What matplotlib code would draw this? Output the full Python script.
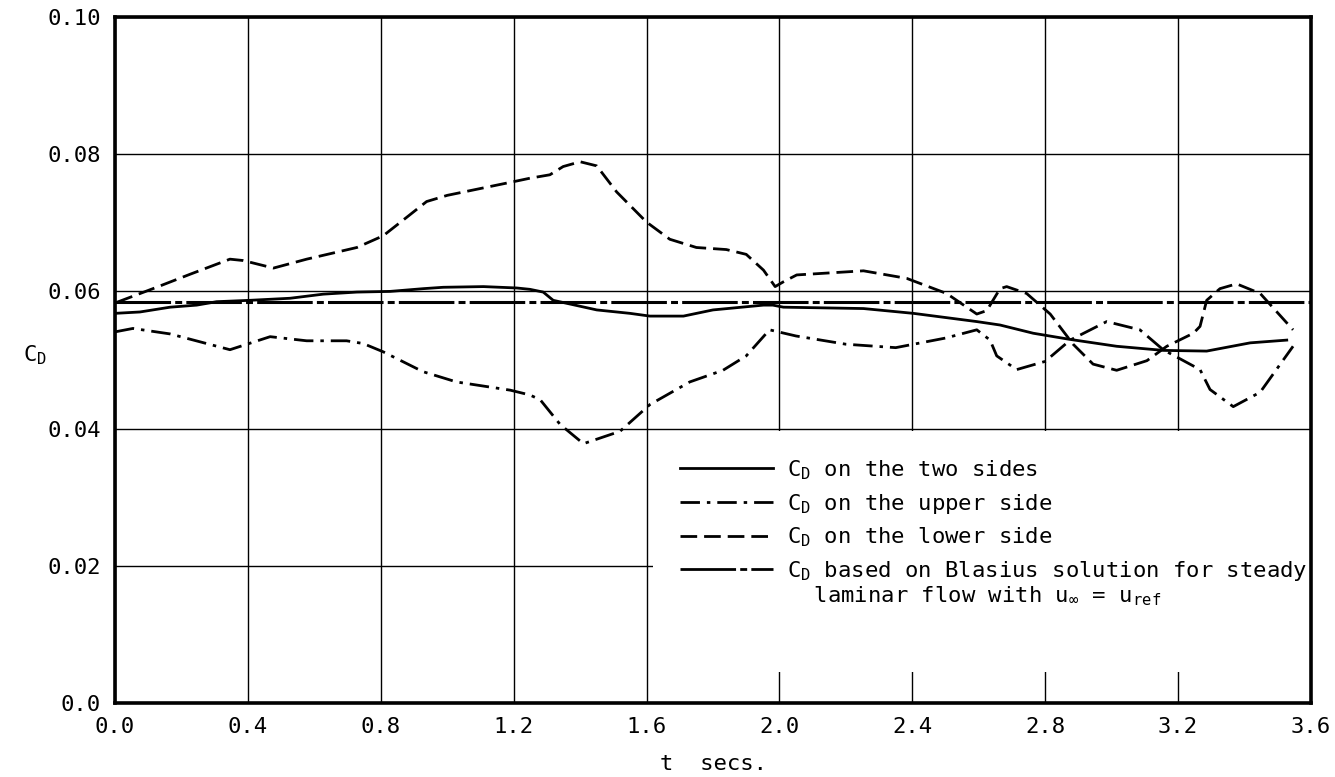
import matplotlib

matplotlib.use("Agg")
import matplotlib.pyplot as plt
from matplotlib.patches import Rectangle

# C_D on the two sides
t_two = [0.0, 0.075, 0.166, 0.246, 0.306, 0.406, 0.527, 0.627, 0.728, 0.828, 0.928, 0.988,
         1.109, 1.209, 1.249, 1.289, 1.319, 1.45, 1.55, 1.61, 1.711, 1.80, 1.952, 1.98, 2.012,
         2.253, 2.403, 2.594, 2.664, 2.764, 2.875, 3.015, 3.156, 3.286, 3.417, 3.527]
cd_two = [0.0568, 0.0570, 0.0577, 0.0580, 0.0585, 0.0587, 0.0590, 0.0596, 0.0599, 0.0600,
          0.0604, 0.0606, 0.0607, 0.0605, 0.0603, 0.0599, 0.0587, 0.0573, 0.0568, 0.0564,
          0.0564, 0.0573, 0.0580, 0.0580, 0.0577, 0.0575, 0.0568, 0.0556, 0.0551, 0.0539,
          0.0530, 0.0520, 0.0514, 0.0513, 0.0525, 0.0529]

# C_D on the upper side
t_upper = [0.0, 0.054, 0.166, 0.346, 0.467, 0.577, 0.697, 0.747, 0.807, 0.927, 1.028, 1.19,
           1.249, 1.28, 1.34, 1.41, 1.52, 1.61, 1.73, 1.83, 1.90, 1.97, 2.05, 2.20, 2.35, 2.50,
           2.594, 2.634, 2.654, 2.714, 2.80, 2.875, 2.985, 3.085, 3.155, 3.266, 3.296, 3.366,
           3.447, 3.546]
cd_upper = [0.0541, 0.0546, 0.0538, 0.0515, 0.0534, 0.0528, 0.0528, 0.0524, 0.0512, 0.0483,
            0.0468, 0.0456, 0.0449, 0.0442, 0.0406, 0.0378, 0.0396, 0.0435, 0.0468, 0.0485,
            0.0506, 0.0544, 0.0535, 0.0523, 0.0518, 0.0532, 0.0544, 0.0529, 0.0506, 0.0486,
            0.0498, 0.0529, 0.0556, 0.0544, 0.0515, 0.0486, 0.0457, 0.0432, 0.0453, 0.0520]

# C_D on the lower side
t_lower = [0.005, 0.125, 0.226, 0.346, 0.386, 0.477, 0.577, 0.728, 0.807, 0.878, 0.938, 1.0,
           1.1, 1.2, 1.249, 1.309, 1.349, 1.40, 1.45, 1.51, 1.60, 1.67, 1.75, 1.84, 1.90, 1.952,
           1.987, 2.012, 2.052, 2.253, 2.383, 2.503, 2.594, 2.624, 2.664, 2.684, 2.744, 2.815,
           2.884, 2.944, 3.015, 3.106, 3.166, 3.246, 3.266, 3.286, 3.326, 3.376, 3.447, 3.546]
cd_lower = [0.0584, 0.0606, 0.0625, 0.0647, 0.0645, 0.0634, 0.0647, 0.0664, 0.0681, 0.0708,
            0.0731, 0.0740, 0.0750, 0.0760, 0.0765, 0.0770, 0.0782, 0.0789, 0.0783, 0.0745,
            0.0701, 0.0676, 0.0664, 0.0661, 0.0654, 0.0631, 0.0607, 0.0614, 0.0624, 0.0630,
            0.0619, 0.0597, 0.0567, 0.0572, 0.0604, 0.0607, 0.0597, 0.0567, 0.0523, 0.0494,
            0.0485, 0.0499, 0.0520, 0.0539, 0.0549, 0.0587, 0.0604, 0.0611, 0.0597, 0.0544]

# Blasius steady laminar value
t_blasius = [0.0, 3.6]
cd_blasius = [0.0585, 0.0585]

x_ticks = [0.0, 0.4, 0.8, 1.2, 1.6, 2.0, 2.4, 2.8, 3.2, 3.6]
x_labels = ["0.0", "0.4", "0.8", "1.2", "1.6", "2.0", "2.4", "2.8", "3.2", "3.6"]
y_ticks = [0.0, 0.02, 0.04, 0.06, 0.08, 0.10]
y_labels = ["0.0", "0.02", "0.04", "0.06", "0.08", "0.10"]

plt.rcParams["font.family"] = ["DejaVu Sans Mono"]
plt.rcParams["mathtext.default"] = "regular"
plt.rcParams["lines.scale_dashes"] = False

fig = plt.figure(figsize=(13.35, 7.77), dpi=100)
ax = fig.add_axes([115 / 1335, 1 - 703 / 777, 1196 / 1335, 686 / 777])

ax.plot(t_two, cd_two, color="black", lw=2.0, ls="-", label="C$_D$ on the two sides")
ax.plot(t_upper, cd_upper, color="black", lw=2.0, ls=(0, (14, 5, 2.5, 5)),
        label="C$_D$ on the upper side")
ax.plot(t_lower, cd_lower, color="black", lw=2.0, ls=(0, (12, 5)),
        label="C$_D$ on the lower side")
ax.plot(t_blasius, cd_blasius, color="black", lw=2.2, ls=(0, (40, 3, 5, 3)),
        label="C$_D$ based on Blasius solution for steady")

ax.set_xlim(0, 3.6)
ax.set_ylim(0, 0.10)
ax.set_xticks(x_ticks, x_labels)
ax.set_yticks(y_ticks, y_labels)
ax.tick_params(length=0, labelsize=16, pad=10)
ax.grid(True, color="black", lw=1.0)
ax.set_axisbelow(True)
for spine in ax.spines.values():
    spine.set_linewidth(2.6)

# blank panel behind the legend hides the grid there
ax.add_patch(Rectangle((1.62, 0.0045), 1.98, 0.0352, facecolor="white",
                       edgecolor="none", zorder=1))

ax.set_xlabel("t  secs.", fontsize=16, labelpad=12)
ax.set_ylabel("C$_D$", fontsize=16, rotation=0, va="center", ha="left")
ax.yaxis.set_label_coords(-0.077, 0.507)

leg = ax.legend(loc="upper left", bbox_to_anchor=(0.465, 0.37), frameon=False,
                fontsize=16, handlelength=4.2, handletextpad=0.6, labelspacing=0.45,
                borderaxespad=0)
for line in leg.get_lines():
    line.set_linewidth(2.0)
# second line of the Blasius entry, hung under its label
ax.annotate("  laminar flow with u$_\\infty$ = u$_{ref}$", xy=(0, 0),
            xycoords=leg.get_texts()[-1], xytext=(0, -1), textcoords="offset points",
            ha="left", va="top", fontsize=16, zorder=10)

fig.savefig("out.png", dpi=100)
